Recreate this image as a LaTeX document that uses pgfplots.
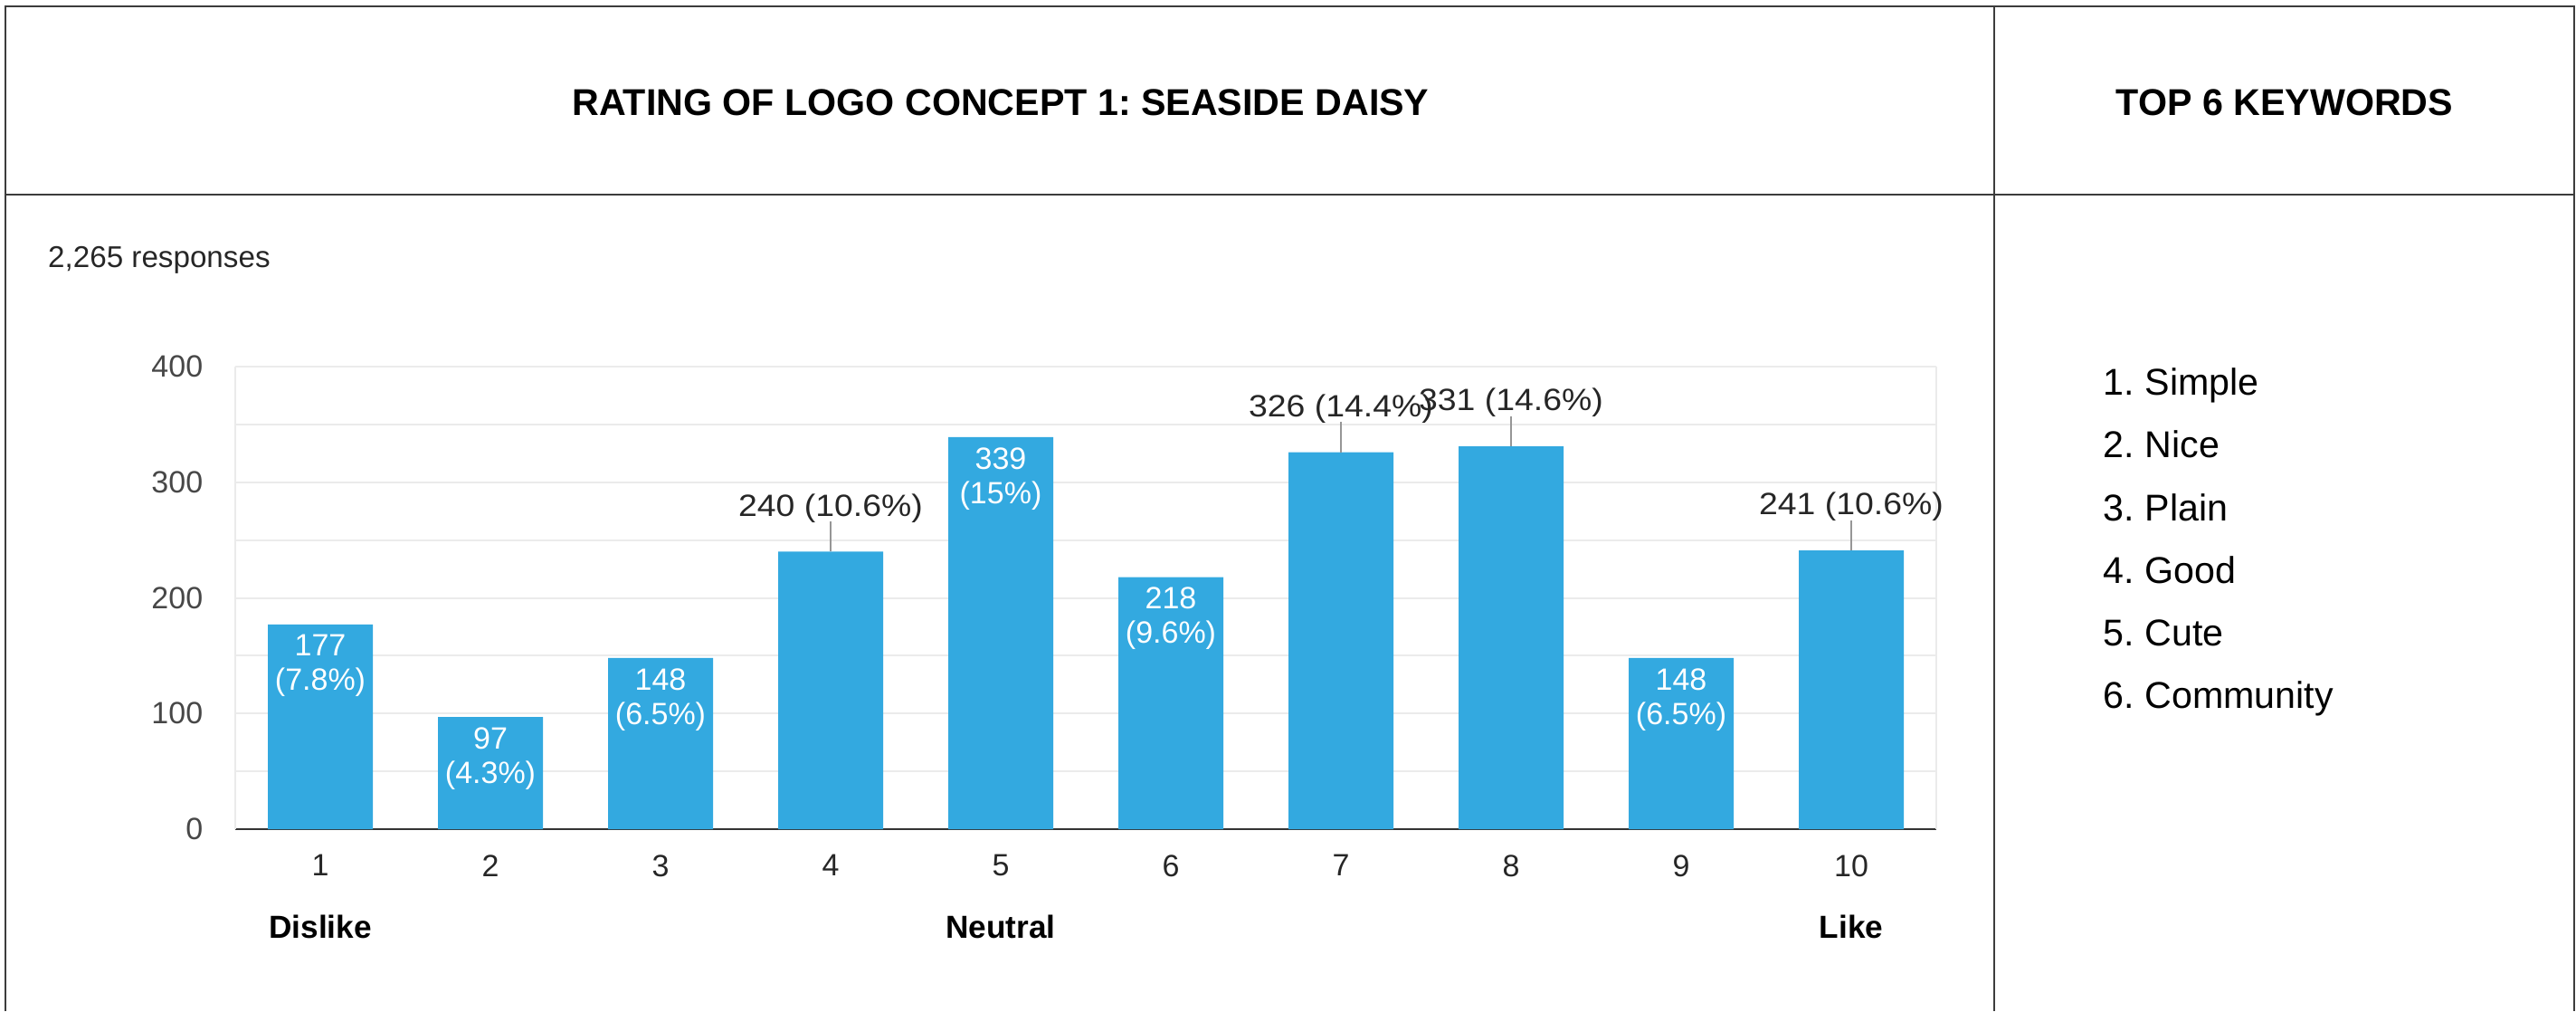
\documentclass[border=0pt]{standalone}
\usepackage{fontspec}
\setmainfont{Liberation Sans}
\usepackage{pgfplots}
\pgfplotsset{compat=1.18}
\definecolor{barblue}{RGB}{51,169,224}
\definecolor{gridgray}{RGB}{235,235,235}
\definecolor{leader}{RGB}{150,150,150}
\definecolor{tablegray}{RGB}{60,60,60}
\frenchspacing
\begin{document}
\begin{tikzpicture}
\useasboundingbox (0pt,0pt) rectangle (711.75pt,279.25pt);
% table frame
\draw[tablegray, line width=0.45pt] (1.5pt,0pt) -- (1.5pt,277.5pt) -- (711.25pt,277.5pt) -- (711.25pt,0pt);
\draw[tablegray, line width=0.45pt] (1.5pt,225.5pt) -- (711.25pt,225.5pt);
\draw[tablegray, line width=0.45pt] (551pt,0pt) -- (551pt,277.5pt);
\node[font=\fontsize{10.3}{12}\selectfont\bfseries] at (276.5pt,251pt) {RATING OF LOGO CONCEPT 1: SEASIDE DAISY};
\node[font=\fontsize{10.3}{12}\selectfont\bfseries] at (631.25pt,251pt) {TOP 6 KEYWORDS};
\node[anchor=base west, inner sep=0pt, font=\fontsize{8.3}{10}\selectfont, text=black!85] at (13.1pt,205.5pt) {2,265 responses};
\node[anchor=base west, inner sep=0pt, font=\fontsize{10.3}{12}\selectfont] at (581pt,170.1pt) {1. Simple};
\node[anchor=base west, inner sep=0pt, font=\fontsize{10.3}{12}\selectfont] at (581pt,152.8pt) {2. Nice};
\node[anchor=base west, inner sep=0pt, font=\fontsize{10.3}{12}\selectfont] at (581pt,135.5pt) {3. Plain};
\node[anchor=base west, inner sep=0pt, font=\fontsize{10.3}{12}\selectfont] at (581pt,118.2pt) {4. Good};
\node[anchor=base west, inner sep=0pt, font=\fontsize{10.3}{12}\selectfont] at (581pt,100.9pt) {5. Cute};
\node[anchor=base west, inner sep=0pt, font=\fontsize{10.3}{12}\selectfont] at (581pt,83.6pt) {6. Community};
\begin{axis}[
  at={(65pt,50.25pt)}, anchor=south west,
  width=470pt, height=127.75pt, scale only axis,
  xmin=0.5, xmax=10.5, ymin=0, ymax=400,
  enlargelimits=false,
  axis x line*=bottom, axis y line*=left,
  x axis line style={black!80, line width=0.6pt},
  y axis line style={gridgray, line width=0.5pt},
  xtick={1,...,10}, ytick={0,100,...,400}, minor ytick={50,150,250,350},
  ymajorgrids, yminorgrids,
  major grid style={gridgray, line width=0.5pt},
  minor grid style={gridgray, line width=0.5pt},
  extra x ticks={10.5}, extra x tick labels={},
  extra x tick style={grid=major, major tick length=0pt},
  major tick length=0pt, minor tick length=0pt,
  /pgf/number format/assume math mode=true,
  ticklabel style={font=\fontsize{8.5}{10}\selectfont},
  yticklabel style={text=black!72, anchor=east, inner sep=0pt, xshift=-8.75pt},
  xticklabel style={text=black!85, anchor=north, inner sep=0pt, yshift=-6.9pt},
  clip=false,
]
\addplot[ybar, bar shift=0pt, bar width=29pt, fill=barblue, draw=none,
  point meta=explicit symbolic, nodes near coords,
  every node near coord/.append style={anchor=north, yshift=-2.7pt, inner sep=0pt, align=center, text=white, font=\fontsize{8.5}{9.5}\selectfont}]
  coordinates {(1,177) [{177\\(7.8\%)}] (2,97) [{97\\(4.3\%)}] (3,148) [{148\\(6.5\%)}] (5,339) [{339\\(15\%)}] (6,218) [{218\\(9.6\%)}] (9,148) [{148\\(6.5\%)}]};
\addplot[ybar, bar shift=0pt, bar width=29pt, fill=barblue, draw=none,
  point meta=explicit symbolic, nodes near coords={\scalebox{1.1}[1]{\pgfplotspointmeta}},
  every node near coord/.append style={anchor=base, yshift=9.8pt, inner sep=0pt, text=black!85, font=\fontsize{8.5}{10}\selectfont},
  error bars/.cd, y dir=plus, y fixed=26.3, error mark=none,
  error bar style={leader, line width=0.35pt}]
  coordinates {(4,240) [240 (10.6\%)] (7,326) [326 (14.4\%)] (8,331) [331 (14.6\%)] (10,241) [241 (10.6\%)]};
\node[anchor=base, inner sep=0pt, font=\fontsize{8.8}{10}\selectfont\bfseries] at (axis cs:1,0) [yshift=-30.1pt] {Dislike};
\node[anchor=base, inner sep=0pt, font=\fontsize{8.8}{10}\selectfont\bfseries] at (axis cs:5,0) [yshift=-30.1pt] {Neutral};
\node[anchor=base, inner sep=0pt, font=\fontsize{8.8}{10}\selectfont\bfseries] at (axis cs:10,0) [yshift=-30.1pt] {Like};
\end{axis}
\end{tikzpicture}
\end{document}
